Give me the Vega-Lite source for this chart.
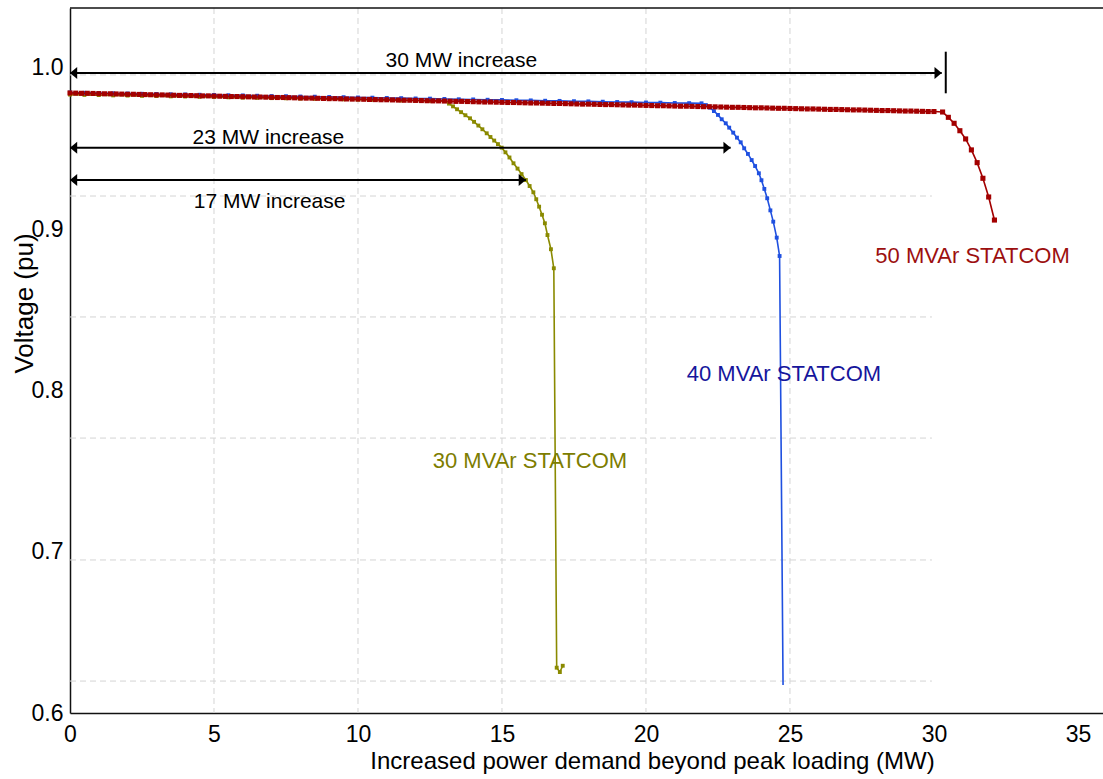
{
  "$schema": "https://vega.github.io/schema/vega-lite/v6.json",
  "autosize": {"type": "none"},
  "padding": {"left": 70, "top": 8, "right": 0, "bottom": 66},
  "width": 1033,
  "height": 705,
  "background": "white",
  "datasets": {
    "curves": [
      {"statcom": "30 MVAr", "mw": 0, "pu": 0.9835}, {"statcom": "30 MVAr", "mw": 0.5, "pu": 0.9833}, {"statcom": "30 MVAr", "mw": 1, "pu": 0.9832}, {"statcom": "30 MVAr", "mw": 1.5, "pu": 0.983}, {"statcom": "30 MVAr", "mw": 2, "pu": 0.9829}, {"statcom": "30 MVAr", "mw": 2.5, "pu": 0.9827}, {"statcom": "30 MVAr", "mw": 3, "pu": 0.9826}, {"statcom": "30 MVAr", "mw": 3.5, "pu": 0.9824}, {"statcom": "30 MVAr", "mw": 4, "pu": 0.9823}, {"statcom": "30 MVAr", "mw": 4.5, "pu": 0.9821}, {"statcom": "30 MVAr", "mw": 5, "pu": 0.982}, {"statcom": "30 MVAr", "mw": 5.5, "pu": 0.9818}, {"statcom": "30 MVAr", "mw": 6, "pu": 0.9816}, {"statcom": "30 MVAr", "mw": 6.5, "pu": 0.9815}, {"statcom": "30 MVAr", "mw": 7, "pu": 0.9813}, {"statcom": "30 MVAr", "mw": 7.5, "pu": 0.9812}, {"statcom": "30 MVAr", "mw": 8, "pu": 0.981}, {"statcom": "30 MVAr", "mw": 8.5, "pu": 0.9809}, {"statcom": "30 MVAr", "mw": 9, "pu": 0.9807}, {"statcom": "30 MVAr", "mw": 9.5, "pu": 0.9806}, {"statcom": "30 MVAr", "mw": 10, "pu": 0.9804}, {"statcom": "30 MVAr", "mw": 10.5, "pu": 0.9803}, {"statcom": "30 MVAr", "mw": 11, "pu": 0.9801}, {"statcom": "30 MVAr", "mw": 11.5, "pu": 0.9799}, {"statcom": "30 MVAr", "mw": 12, "pu": 0.9798}, {"statcom": "30 MVAr", "mw": 12.5, "pu": 0.9796}, {"statcom": "30 MVAr", "mw": 13.02, "pu": 0.9795},
      {"statcom": "30 MVAr", "mw": 13.16, "pu": 0.9779}, {"statcom": "30 MVAr", "mw": 13.3, "pu": 0.9762}, {"statcom": "30 MVAr", "mw": 13.44, "pu": 0.9744}, {"statcom": "30 MVAr", "mw": 13.58, "pu": 0.9726}, {"statcom": "30 MVAr", "mw": 13.73, "pu": 0.9707}, {"statcom": "30 MVAr", "mw": 13.89, "pu": 0.9688}, {"statcom": "30 MVAr", "mw": 14.03, "pu": 0.9666}, {"statcom": "30 MVAr", "mw": 14.18, "pu": 0.9643}, {"statcom": "30 MVAr", "mw": 14.32, "pu": 0.962}, {"statcom": "30 MVAr", "mw": 14.47, "pu": 0.9595}, {"statcom": "30 MVAr", "mw": 14.6, "pu": 0.9572}, {"statcom": "30 MVAr", "mw": 14.73, "pu": 0.955}, {"statcom": "30 MVAr", "mw": 14.86, "pu": 0.9528}, {"statcom": "30 MVAr", "mw": 14.99, "pu": 0.9506}, {"statcom": "30 MVAr", "mw": 15.12, "pu": 0.9477}, {"statcom": "30 MVAr", "mw": 15.26, "pu": 0.9445}, {"statcom": "30 MVAr", "mw": 15.4, "pu": 0.9409}, {"statcom": "30 MVAr", "mw": 15.54, "pu": 0.9376}, {"statcom": "30 MVAr", "mw": 15.68, "pu": 0.9342}, {"statcom": "30 MVAr", "mw": 15.83, "pu": 0.9305}, {"statcom": "30 MVAr", "mw": 15.96, "pu": 0.9268}, {"statcom": "30 MVAr", "mw": 16.09, "pu": 0.9229}, {"statcom": "30 MVAr", "mw": 16.19, "pu": 0.9186}, {"statcom": "30 MVAr", "mw": 16.29, "pu": 0.914}, {"statcom": "30 MVAr", "mw": 16.39, "pu": 0.909}, {"statcom": "30 MVAr", "mw": 16.49, "pu": 0.9037}, {"statcom": "30 MVAr", "mw": 16.58, "pu": 0.8964}, {"statcom": "30 MVAr", "mw": 16.7, "pu": 0.8876}, {"statcom": "30 MVAr", "mw": 16.8, "pu": 0.8758}, {"statcom": "30 MVAr", "mw": 16.9, "pu": 0.6281}, {"statcom": "30 MVAr", "mw": 17.01, "pu": 0.6254}, {"statcom": "30 MVAr", "mw": 17.11, "pu": 0.6293},

      {"statcom": "40 MVAr", "mw": 0, "pu": 0.9848}, {"statcom": "40 MVAr", "mw": 0.5, "pu": 0.9846}, {"statcom": "40 MVAr", "mw": 1, "pu": 0.9845}, {"statcom": "40 MVAr", "mw": 1.5, "pu": 0.9843}, {"statcom": "40 MVAr", "mw": 2, "pu": 0.9842}, {"statcom": "40 MVAr", "mw": 2.5, "pu": 0.984}, {"statcom": "40 MVAr", "mw": 3, "pu": 0.9839}, {"statcom": "40 MVAr", "mw": 3.5, "pu": 0.9837}, {"statcom": "40 MVAr", "mw": 4, "pu": 0.9836}, {"statcom": "40 MVAr", "mw": 4.5, "pu": 0.9834}, {"statcom": "40 MVAr", "mw": 5, "pu": 0.9833}, {"statcom": "40 MVAr", "mw": 5.5, "pu": 0.9831}, {"statcom": "40 MVAr", "mw": 6, "pu": 0.983}, {"statcom": "40 MVAr", "mw": 6.5, "pu": 0.9828}, {"statcom": "40 MVAr", "mw": 7, "pu": 0.9826}, {"statcom": "40 MVAr", "mw": 7.5, "pu": 0.9825}, {"statcom": "40 MVAr", "mw": 8, "pu": 0.9823}, {"statcom": "40 MVAr", "mw": 8.5, "pu": 0.9822}, {"statcom": "40 MVAr", "mw": 9, "pu": 0.982}, {"statcom": "40 MVAr", "mw": 9.5, "pu": 0.9819}, {"statcom": "40 MVAr", "mw": 10, "pu": 0.9817}, {"statcom": "40 MVAr", "mw": 10.5, "pu": 0.9816}, {"statcom": "40 MVAr", "mw": 11, "pu": 0.9814}, {"statcom": "40 MVAr", "mw": 11.5, "pu": 0.9813}, {"statcom": "40 MVAr", "mw": 12, "pu": 0.9811}, {"statcom": "40 MVAr", "mw": 12.5, "pu": 0.981}, {"statcom": "40 MVAr", "mw": 13, "pu": 0.9808}, {"statcom": "40 MVAr", "mw": 13.5, "pu": 0.9806}, {"statcom": "40 MVAr", "mw": 14, "pu": 0.9805}, {"statcom": "40 MVAr", "mw": 14.5, "pu": 0.9803}, {"statcom": "40 MVAr", "mw": 15, "pu": 0.9802}, {"statcom": "40 MVAr", "mw": 15.5, "pu": 0.98}, {"statcom": "40 MVAr", "mw": 16, "pu": 0.9799}, {"statcom": "40 MVAr", "mw": 16.5, "pu": 0.9797}, {"statcom": "40 MVAr", "mw": 17, "pu": 0.9796}, {"statcom": "40 MVAr", "mw": 17.5, "pu": 0.9794}, {"statcom": "40 MVAr", "mw": 18, "pu": 0.9793}, {"statcom": "40 MVAr", "mw": 18.5, "pu": 0.9791}, {"statcom": "40 MVAr", "mw": 19, "pu": 0.9789}, {"statcom": "40 MVAr", "mw": 19.5, "pu": 0.9788}, {"statcom": "40 MVAr", "mw": 20, "pu": 0.9786}, {"statcom": "40 MVAr", "mw": 20.5, "pu": 0.9785}, {"statcom": "40 MVAr", "mw": 21, "pu": 0.9783}, {"statcom": "40 MVAr", "mw": 21.5, "pu": 0.9782}, {"statcom": "40 MVAr", "mw": 21.93, "pu": 0.9781},
      {"statcom": "40 MVAr", "mw": 22.08, "pu": 0.977}, {"statcom": "40 MVAr", "mw": 22.22, "pu": 0.9754}, {"statcom": "40 MVAr", "mw": 22.36, "pu": 0.9733}, {"statcom": "40 MVAr", "mw": 22.5, "pu": 0.9709}, {"statcom": "40 MVAr", "mw": 22.63, "pu": 0.9682}, {"statcom": "40 MVAr", "mw": 22.77, "pu": 0.9657}, {"statcom": "40 MVAr", "mw": 22.89, "pu": 0.963}, {"statcom": "40 MVAr", "mw": 23.03, "pu": 0.9599}, {"statcom": "40 MVAr", "mw": 23.16, "pu": 0.9568}, {"statcom": "40 MVAr", "mw": 23.29, "pu": 0.9539}, {"statcom": "40 MVAr", "mw": 23.41, "pu": 0.9502}, {"statcom": "40 MVAr", "mw": 23.54, "pu": 0.9467}, {"statcom": "40 MVAr", "mw": 23.67, "pu": 0.9429}, {"statcom": "40 MVAr", "mw": 23.79, "pu": 0.9392}, {"statcom": "40 MVAr", "mw": 23.92, "pu": 0.9347}, {"statcom": "40 MVAr", "mw": 24.01, "pu": 0.9304}, {"statcom": "40 MVAr", "mw": 24.11, "pu": 0.925}, {"statcom": "40 MVAr", "mw": 24.21, "pu": 0.9192}, {"statcom": "40 MVAr", "mw": 24.32, "pu": 0.9117}, {"statcom": "40 MVAr", "mw": 24.42, "pu": 0.9047}, {"statcom": "40 MVAr", "mw": 24.54, "pu": 0.8948}, {"statcom": "40 MVAr", "mw": 24.64, "pu": 0.8834}, {"statcom": "40 MVAr", "mw": 24.76, "pu": 0.6174},

      {"statcom": "50 MVAr", "mw": 0, "pu": 0.9845}, {"statcom": "50 MVAr", "mw": 0.2, "pu": 0.9844}, {"statcom": "50 MVAr", "mw": 0.4, "pu": 0.9843}, {"statcom": "50 MVAr", "mw": 0.6, "pu": 0.9843}, {"statcom": "50 MVAr", "mw": 0.8, "pu": 0.9842}, {"statcom": "50 MVAr", "mw": 1, "pu": 0.9841}, {"statcom": "50 MVAr", "mw": 1.2, "pu": 0.984}, {"statcom": "50 MVAr", "mw": 1.4, "pu": 0.984}, {"statcom": "50 MVAr", "mw": 1.6, "pu": 0.9839}, {"statcom": "50 MVAr", "mw": 1.8, "pu": 0.9838},
      {"statcom": "50 MVAr", "mw": 2, "pu": 0.9837}, {"statcom": "50 MVAr", "mw": 2.2, "pu": 0.9837}, {"statcom": "50 MVAr", "mw": 2.4, "pu": 0.9836}, {"statcom": "50 MVAr", "mw": 2.6, "pu": 0.9835}, {"statcom": "50 MVAr", "mw": 2.8, "pu": 0.9834}, {"statcom": "50 MVAr", "mw": 3, "pu": 0.9833}, {"statcom": "50 MVAr", "mw": 3.2, "pu": 0.9833}, {"statcom": "50 MVAr", "mw": 3.4, "pu": 0.9832}, {"statcom": "50 MVAr", "mw": 3.6, "pu": 0.9831}, {"statcom": "50 MVAr", "mw": 3.8, "pu": 0.983},
      {"statcom": "50 MVAr", "mw": 4, "pu": 0.983}, {"statcom": "50 MVAr", "mw": 4.2, "pu": 0.9829}, {"statcom": "50 MVAr", "mw": 4.4, "pu": 0.9828}, {"statcom": "50 MVAr", "mw": 4.6, "pu": 0.9827}, {"statcom": "50 MVAr", "mw": 4.8, "pu": 0.9827}, {"statcom": "50 MVAr", "mw": 5, "pu": 0.9826}, {"statcom": "50 MVAr", "mw": 5.2, "pu": 0.9825}, {"statcom": "50 MVAr", "mw": 5.4, "pu": 0.9824}, {"statcom": "50 MVAr", "mw": 5.6, "pu": 0.9823}, {"statcom": "50 MVAr", "mw": 5.8, "pu": 0.9823},
      {"statcom": "50 MVAr", "mw": 6, "pu": 0.9822}, {"statcom": "50 MVAr", "mw": 6.2, "pu": 0.9821}, {"statcom": "50 MVAr", "mw": 6.4, "pu": 0.982}, {"statcom": "50 MVAr", "mw": 6.6, "pu": 0.982}, {"statcom": "50 MVAr", "mw": 6.8, "pu": 0.9819}, {"statcom": "50 MVAr", "mw": 7, "pu": 0.9818}, {"statcom": "50 MVAr", "mw": 7.2, "pu": 0.9817}, {"statcom": "50 MVAr", "mw": 7.4, "pu": 0.9817}, {"statcom": "50 MVAr", "mw": 7.6, "pu": 0.9816}, {"statcom": "50 MVAr", "mw": 7.8, "pu": 0.9815},
      {"statcom": "50 MVAr", "mw": 8, "pu": 0.9814}, {"statcom": "50 MVAr", "mw": 8.2, "pu": 0.9813}, {"statcom": "50 MVAr", "mw": 8.4, "pu": 0.9813}, {"statcom": "50 MVAr", "mw": 8.6, "pu": 0.9812}, {"statcom": "50 MVAr", "mw": 8.8, "pu": 0.9811}, {"statcom": "50 MVAr", "mw": 9, "pu": 0.981}, {"statcom": "50 MVAr", "mw": 9.2, "pu": 0.981}, {"statcom": "50 MVAr", "mw": 9.4, "pu": 0.9809}, {"statcom": "50 MVAr", "mw": 9.6, "pu": 0.9808}, {"statcom": "50 MVAr", "mw": 9.8, "pu": 0.9807},
      {"statcom": "50 MVAr", "mw": 10, "pu": 0.9807}, {"statcom": "50 MVAr", "mw": 10.2, "pu": 0.9806}, {"statcom": "50 MVAr", "mw": 10.4, "pu": 0.9805}, {"statcom": "50 MVAr", "mw": 10.6, "pu": 0.9804}, {"statcom": "50 MVAr", "mw": 10.8, "pu": 0.9803}, {"statcom": "50 MVAr", "mw": 11, "pu": 0.9803}, {"statcom": "50 MVAr", "mw": 11.2, "pu": 0.9802}, {"statcom": "50 MVAr", "mw": 11.4, "pu": 0.9801}, {"statcom": "50 MVAr", "mw": 11.6, "pu": 0.98}, {"statcom": "50 MVAr", "mw": 11.8, "pu": 0.98},
      {"statcom": "50 MVAr", "mw": 12, "pu": 0.9799}, {"statcom": "50 MVAr", "mw": 12.2, "pu": 0.9798}, {"statcom": "50 MVAr", "mw": 12.4, "pu": 0.9797}, {"statcom": "50 MVAr", "mw": 12.6, "pu": 0.9796}, {"statcom": "50 MVAr", "mw": 12.8, "pu": 0.9796}, {"statcom": "50 MVAr", "mw": 13, "pu": 0.9795}, {"statcom": "50 MVAr", "mw": 13.2, "pu": 0.9794}, {"statcom": "50 MVAr", "mw": 13.4, "pu": 0.9793}, {"statcom": "50 MVAr", "mw": 13.6, "pu": 0.9793}, {"statcom": "50 MVAr", "mw": 13.8, "pu": 0.9792},
      {"statcom": "50 MVAr", "mw": 14, "pu": 0.9791}, {"statcom": "50 MVAr", "mw": 14.2, "pu": 0.979}, {"statcom": "50 MVAr", "mw": 14.4, "pu": 0.9789}, {"statcom": "50 MVAr", "mw": 14.6, "pu": 0.9789}, {"statcom": "50 MVAr", "mw": 14.8, "pu": 0.9788}, {"statcom": "50 MVAr", "mw": 15, "pu": 0.9787}, {"statcom": "50 MVAr", "mw": 15.2, "pu": 0.9786}, {"statcom": "50 MVAr", "mw": 15.4, "pu": 0.9786}, {"statcom": "50 MVAr", "mw": 15.6, "pu": 0.9785}, {"statcom": "50 MVAr", "mw": 15.8, "pu": 0.9784},
      {"statcom": "50 MVAr", "mw": 16, "pu": 0.9783}, {"statcom": "50 MVAr", "mw": 16.2, "pu": 0.9783}, {"statcom": "50 MVAr", "mw": 16.4, "pu": 0.9782}, {"statcom": "50 MVAr", "mw": 16.6, "pu": 0.9781}, {"statcom": "50 MVAr", "mw": 16.8, "pu": 0.978}, {"statcom": "50 MVAr", "mw": 17, "pu": 0.978}, {"statcom": "50 MVAr", "mw": 17.2, "pu": 0.9779}, {"statcom": "50 MVAr", "mw": 17.4, "pu": 0.9778}, {"statcom": "50 MVAr", "mw": 17.6, "pu": 0.9777}, {"statcom": "50 MVAr", "mw": 17.8, "pu": 0.9776},
      {"statcom": "50 MVAr", "mw": 18, "pu": 0.9776}, {"statcom": "50 MVAr", "mw": 18.2, "pu": 0.9775}, {"statcom": "50 MVAr", "mw": 18.4, "pu": 0.9774}, {"statcom": "50 MVAr", "mw": 18.6, "pu": 0.9773}, {"statcom": "50 MVAr", "mw": 18.8, "pu": 0.9773}, {"statcom": "50 MVAr", "mw": 19, "pu": 0.9772}, {"statcom": "50 MVAr", "mw": 19.2, "pu": 0.9771}, {"statcom": "50 MVAr", "mw": 19.4, "pu": 0.977}, {"statcom": "50 MVAr", "mw": 19.6, "pu": 0.977}, {"statcom": "50 MVAr", "mw": 19.8, "pu": 0.9769},
      {"statcom": "50 MVAr", "mw": 20, "pu": 0.9768}, {"statcom": "50 MVAr", "mw": 20.2, "pu": 0.9767}, {"statcom": "50 MVAr", "mw": 20.4, "pu": 0.9766}, {"statcom": "50 MVAr", "mw": 20.6, "pu": 0.9766}, {"statcom": "50 MVAr", "mw": 20.8, "pu": 0.9765}, {"statcom": "50 MVAr", "mw": 21, "pu": 0.9764}, {"statcom": "50 MVAr", "mw": 21.2, "pu": 0.9763}, {"statcom": "50 MVAr", "mw": 21.4, "pu": 0.9763}, {"statcom": "50 MVAr", "mw": 21.6, "pu": 0.9762}, {"statcom": "50 MVAr", "mw": 21.8, "pu": 0.9761},
      {"statcom": "50 MVAr", "mw": 22, "pu": 0.976}, {"statcom": "50 MVAr", "mw": 22.2, "pu": 0.976}, {"statcom": "50 MVAr", "mw": 22.4, "pu": 0.9759}, {"statcom": "50 MVAr", "mw": 22.6, "pu": 0.9758}, {"statcom": "50 MVAr", "mw": 22.8, "pu": 0.9757}, {"statcom": "50 MVAr", "mw": 23, "pu": 0.9756}, {"statcom": "50 MVAr", "mw": 23.2, "pu": 0.9756}, {"statcom": "50 MVAr", "mw": 23.4, "pu": 0.9755}, {"statcom": "50 MVAr", "mw": 23.6, "pu": 0.9754}, {"statcom": "50 MVAr", "mw": 23.8, "pu": 0.9753},
      {"statcom": "50 MVAr", "mw": 24, "pu": 0.9753}, {"statcom": "50 MVAr", "mw": 24.2, "pu": 0.9752}, {"statcom": "50 MVAr", "mw": 24.4, "pu": 0.9751}, {"statcom": "50 MVAr", "mw": 24.6, "pu": 0.975}, {"statcom": "50 MVAr", "mw": 24.8, "pu": 0.975}, {"statcom": "50 MVAr", "mw": 25, "pu": 0.9749}, {"statcom": "50 MVAr", "mw": 25.2, "pu": 0.9748}, {"statcom": "50 MVAr", "mw": 25.4, "pu": 0.9747}, {"statcom": "50 MVAr", "mw": 25.6, "pu": 0.9746}, {"statcom": "50 MVAr", "mw": 25.8, "pu": 0.9746},
      {"statcom": "50 MVAr", "mw": 26, "pu": 0.9745}, {"statcom": "50 MVAr", "mw": 26.2, "pu": 0.9744}, {"statcom": "50 MVAr", "mw": 26.4, "pu": 0.9743}, {"statcom": "50 MVAr", "mw": 26.6, "pu": 0.9743}, {"statcom": "50 MVAr", "mw": 26.8, "pu": 0.9742}, {"statcom": "50 MVAr", "mw": 27, "pu": 0.9741}, {"statcom": "50 MVAr", "mw": 27.2, "pu": 0.974}, {"statcom": "50 MVAr", "mw": 27.4, "pu": 0.974}, {"statcom": "50 MVAr", "mw": 27.6, "pu": 0.9739}, {"statcom": "50 MVAr", "mw": 27.8, "pu": 0.9738},
      {"statcom": "50 MVAr", "mw": 28, "pu": 0.9737}, {"statcom": "50 MVAr", "mw": 28.2, "pu": 0.9736}, {"statcom": "50 MVAr", "mw": 28.4, "pu": 0.9736}, {"statcom": "50 MVAr", "mw": 28.6, "pu": 0.9735}, {"statcom": "50 MVAr", "mw": 28.8, "pu": 0.9734}, {"statcom": "50 MVAr", "mw": 29, "pu": 0.9733}, {"statcom": "50 MVAr", "mw": 29.2, "pu": 0.9733}, {"statcom": "50 MVAr", "mw": 29.4, "pu": 0.9732}, {"statcom": "50 MVAr", "mw": 29.6, "pu": 0.9731}, {"statcom": "50 MVAr", "mw": 29.8, "pu": 0.973},
      {"statcom": "50 MVAr", "mw": 30, "pu": 0.973}, {"statcom": "50 MVAr", "mw": 30.3, "pu": 0.9727},
      {"statcom": "50 MVAr", "mw": 30.5, "pu": 0.9694}, {"statcom": "50 MVAr", "mw": 30.7, "pu": 0.9657}, {"statcom": "50 MVAr", "mw": 30.9, "pu": 0.9611}, {"statcom": "50 MVAr", "mw": 31.1, "pu": 0.956}, {"statcom": "50 MVAr", "mw": 31.3, "pu": 0.9492}, {"statcom": "50 MVAr", "mw": 31.5, "pu": 0.9413}, {"statcom": "50 MVAr", "mw": 31.7, "pu": 0.9316}, {"statcom": "50 MVAr", "mw": 31.9, "pu": 0.92}, {"statcom": "50 MVAr", "mw": 32.1, "pu": 0.9057}
    ],
    "gridH": [{"pu": 0.9957}, {"pu": 0.9206}, {"pu": 0.8456}, {"pu": 0.7705}, {"pu": 0.6949}, {"pu": 0.6198}],
    "gridV": [{"mw": 5}, {"mw": 10}, {"mw": 15}, {"mw": 20}, {"mw": 25}],
    "arrows": [
      {"label": "30 MW increase", "start": 0, "end": 30.27, "pu": 0.9969},
      {"label": "23 MW increase", "start": 0, "end": 22.94, "pu": 0.9506},
      {"label": "17 MW increase", "start": 0, "end": 15.83, "pu": 0.9305}
    ],
    "limit": [{"mw": 30.41, "pu": 0.9843, "pu2": 1.0101}],
    "arrowText": [
      {"text": "30 MW increase", "mw": 13.59, "pu": 1.0004},
      {"text": "23 MW increase", "mw": 6.89, "pu": 0.9529},
      {"text": "17 MW increase", "mw": 6.93, "pu": 0.9132}
    ],
    "curveText": [
      {"text": "30 MVAr STATCOM", "mw": 15.97, "pu": 0.7519},
      {"text": "40 MVAr STATCOM", "mw": 24.79, "pu": 0.8059},
      {"text": "50 MVAr STATCOM", "mw": 31.34, "pu": 0.8793}
    ]
  },
  "layer": [
    {
      "data": {"name": "gridH"},
      "mark": {"type": "rule", "color": "#d4d4d4", "strokeWidth": 1, "strokeDash": [6, 4]},
      "encoding": {
        "x": {"datum": 0, "type": "quantitative",
          "scale": {"domain": [0, 35.87], "nice": false, "zero": false},
          "axis": {
            "title": "Increased power demand beyond peak loading (MW)",
            "values": [0, 5, 10, 15, 20, 25, 30, 35],
            "format": "d",
            "labelPadding": 10,
            "labelFlush": false,
            "labelFontSize": 23,
            "titleFontSize": 24,
            "titleX": 582,
            "titleY": 55,
            "titleAlign": "center",
            "titleBaseline": "alphabetic"
          }
        },
        "x2": {"datum": 29.93},
        "y": {"field": "pu", "type": "quantitative",
          "scale": {"domain": [0.6, 1.0372], "nice": false, "zero": false},
          "axis": {
            "title": "Voltage (pu)",
            "values": [0.6, 0.7, 0.8, 0.9, 1.0],
            "format": ".1f",
            "labelPadding": 7,
            "labelFlush": false,
            "labelFontSize": 23,
            "titleFontSize": 26,
            "titleAngle": -90,
            "titleX": -46,
            "titleY": 295,
            "titleAlign": "center",
            "titleBaseline": "middle"
          }
        }
      }
    },
    {
      "data": {"name": "gridV"},
      "mark": {"type": "rule", "color": "#d4d4d4", "strokeWidth": 1, "strokeDash": [6, 4]},
      "encoding": {"x": {"field": "mw", "type": "quantitative"}}
    },
    {
      "data": {"values": [{}]},
      "mark": {"type": "rule", "color": "#111", "strokeWidth": 1.5},
      "encoding": {"y": {"datum": 1.0372, "type": "quantitative"}}
    },
    {
      "data": {"name": "curves"},
      "transform": [{"filter": "datum.statcom === '30 MVAr'"}],
      "layer": [
        {"mark": {"type": "line", "color": "#8a8a00", "strokeWidth": 1.6},
         "encoding": {"x": {"field": "mw", "type": "quantitative"}, "y": {"field": "pu", "type": "quantitative"}, "order": {"field": "mw"}}},
        {"mark": {"type": "point", "shape": "square", "filled": true, "size": 15, "color": "#8a8a00", "opacity": 1},
         "encoding": {"x": {"field": "mw", "type": "quantitative"}, "y": {"field": "pu", "type": "quantitative"}}}
      ]
    },
    {
      "data": {"name": "curves"},
      "transform": [{"filter": "datum.statcom === '40 MVAr'"}],
      "layer": [
        {"mark": {"type": "line", "color": "#1f50e0", "strokeWidth": 1.6},
         "encoding": {"x": {"field": "mw", "type": "quantitative"}, "y": {"field": "pu", "type": "quantitative"}, "order": {"field": "mw"}}},
        {"transform": [{"filter": "datum.pu > 0.7"}],
         "mark": {"type": "point", "shape": "square", "filled": true, "size": 15, "color": "#1f50e0", "opacity": 1},
         "encoding": {"x": {"field": "mw", "type": "quantitative"}, "y": {"field": "pu", "type": "quantitative"}}}
      ]
    },
    {
      "data": {"name": "curves"},
      "transform": [{"filter": "datum.statcom === '50 MVAr'"}],
      "layer": [
        {"mark": {"type": "line", "color": "#a30000", "strokeWidth": 1.6},
         "encoding": {"x": {"field": "mw", "type": "quantitative"}, "y": {"field": "pu", "type": "quantitative"}, "order": {"field": "mw"}}},
        {"mark": {"type": "point", "shape": "square", "filled": true, "size": 26, "color": "#a30000", "opacity": 1},
         "encoding": {"x": {"field": "mw", "type": "quantitative"}, "y": {"field": "pu", "type": "quantitative"}}}
      ]
    },
    {
      "data": {"name": "arrows"},
      "mark": {"type": "rule", "color": "#000", "strokeWidth": 2},
      "encoding": {
        "x": {"field": "start", "type": "quantitative"},
        "x2": {"field": "end"},
        "y": {"field": "pu", "type": "quantitative"}
      }
    },
    {
      "data": {"name": "arrows"},
      "transform": [{"fold": ["start", "end"], "as": ["side", "mw"]}],
      "mark": {"type": "point", "filled": true, "color": "#000", "opacity": 1, "size": 144, "strokeWidth": 0},
      "encoding": {
        "x": {"field": "mw", "type": "quantitative"},
        "y": {"field": "pu", "type": "quantitative"},
        "shape": {"field": "side", "type": "nominal",
          "scale": {"domain": ["start", "end"], "range": ["M1.2,-1L0,0L1.2,1Z", "M-1.2,-1L0,0L-1.2,1Z"]},
          "legend": null}
      }
    },
    {
      "data": {"name": "limit"},
      "mark": {"type": "rule", "color": "#000", "strokeWidth": 2},
      "encoding": {
        "x": {"field": "mw", "type": "quantitative"},
        "y": {"field": "pu", "type": "quantitative"},
        "y2": {"field": "pu2"}
      }
    },
    {
      "data": {"name": "arrowText"},
      "mark": {"type": "text", "font": "Liberation Sans", "fontSize": 21, "color": "#000", "align": "center", "baseline": "alphabetic"},
      "encoding": {
        "x": {"field": "mw", "type": "quantitative"},
        "y": {"field": "pu", "type": "quantitative"},
        "text": {"field": "text"}
      }
    },
    {
      "data": {"name": "curveText"},
      "mark": {"type": "text", "font": "Liberation Sans", "fontSize": 22, "align": "center", "baseline": "alphabetic"},
      "encoding": {
        "x": {"field": "mw", "type": "quantitative"},
        "y": {"field": "pu", "type": "quantitative"},
        "text": {"field": "text"},
        "color": {"field": "text", "type": "nominal",
          "scale": {"domain": ["30 MVAr STATCOM", "40 MVAr STATCOM", "50 MVAr STATCOM"], "range": ["#7d7d00", "#16169c", "#9c0f0f"]},
          "legend": null}
      }
    }
  ],
  "config": {
    "view": {"stroke": null},
    "font": "Liberation Sans",
    "axis": {
      "grid": false,
      "ticks": false,
      "domainColor": "#111",
      "domainWidth": 1.5,
      "labelColor": "#000",
      "titleColor": "#000",
      "labelFont": "Liberation Sans",
      "titleFont": "Liberation Sans",
      "titleFontWeight": "normal"
    }
  }
}
